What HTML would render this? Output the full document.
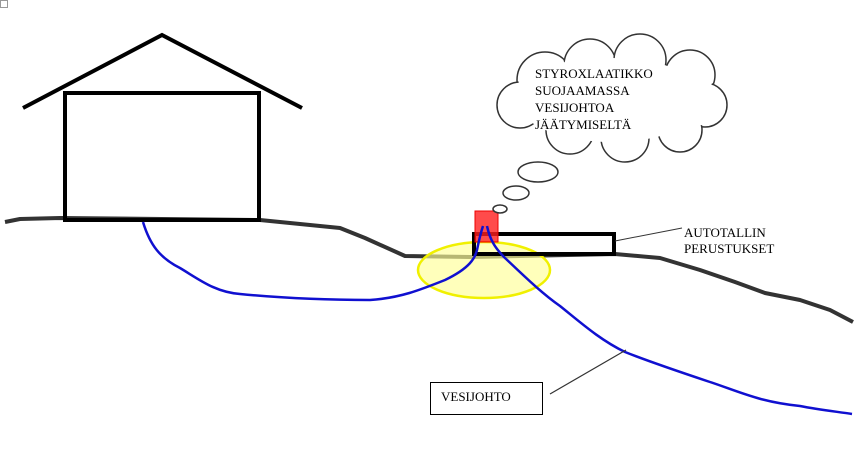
<!DOCTYPE html>
<html><head><style>html,body{margin:0;padding:0;background:#fff;}svg{display:block;}</style></head>
<body>
<svg width="858" height="452" viewBox="0 0 858 452" xmlns="http://www.w3.org/2000/svg" font-family="Liberation Serif, serif" font-size="13">
<rect x="0.5" y="0.5" width="7" height="7" fill="none" stroke="#999" stroke-width="1"/>
<!-- ground -->
<path d="M5,222 L20,219 L60,218 L260,220 L340,228 L365,238 L405,256 L470,257 L615,254 L660,258 L700,270 L735,282 L765,293 L800,300 L830,310 L853,322" fill="none" stroke="#333" stroke-width="4" stroke-linejoin="round"/>
<!-- house -->
<rect x="65" y="93" width="194" height="127" fill="none" stroke="#000" stroke-width="4"/>
<path d="M23,108 L162,35 L302,108" fill="none" stroke="#000" stroke-width="4"/>
<!-- yellow ellipse -->
<ellipse cx="484" cy="270" rx="66" ry="28" fill="rgba(255,255,150,0.65)" stroke="#f0f000" stroke-width="2.5"/>
<!-- garage foundation -->
<rect x="474" y="234" width="140" height="20" fill="none" stroke="#000" stroke-width="4"/>
<!-- red box -->
<rect x="475" y="211" width="23" height="31" fill="rgba(255,30,30,0.8)" stroke="#e00" stroke-width="1"/>
<!-- pipes -->
<path d="M143,222 C150,245 160,258 180,268 C200,280 215,292 240,294 C280,298 330,300 370,300 C400,298 420,290 445,280 C470,268 475,258 477,250 C479,240 481,232 483,226" fill="none" stroke="#1010d0" stroke-width="2.5"/>
<path d="M487,226 C490,240 495,248 505,258 C520,272 540,292 560,306 C580,322 600,340 625,352 C650,362 680,372 710,382 C740,392 760,402 800,406 C820,410 840,412 852,414" fill="none" stroke="#1010d0" stroke-width="2.5"/>
<!-- thought bubbles -->
<ellipse cx="500" cy="209" rx="7" ry="4" fill="#fff" stroke="#333" stroke-width="1.5"/>
<ellipse cx="516" cy="193" rx="13" ry="7" fill="#fff" stroke="#333" stroke-width="1.5"/>
<ellipse cx="538" cy="172" rx="20" ry="10" fill="#fff" stroke="#333" stroke-width="1.5"/>
<!-- cloud -->
<g fill="#fff" stroke="#333" stroke-width="1.5">
<circle cx="545" cy="80" r="28"/>
<circle cx="590" cy="65" r="26"/>
<circle cx="640" cy="60" r="26"/>
<circle cx="690" cy="75" r="25"/>
<circle cx="705" cy="105" r="22"/>
<circle cx="680" cy="130" r="22"/>
<circle cx="625" cy="138" r="24"/>
<circle cx="570" cy="130" r="24"/>
<circle cx="520" cy="105" r="23"/>
</g>
<g fill="#fff">
<ellipse cx="612" cy="100" rx="95" ry="42"/>
<circle cx="545" cy="80" r="26.5"/>
<circle cx="590" cy="65" r="24.5"/>
<circle cx="640" cy="60" r="24.5"/>
<circle cx="690" cy="75" r="23.5"/>
<circle cx="705" cy="105" r="20.5"/>
<circle cx="680" cy="130" r="20.5"/>
<circle cx="625" cy="138" r="22.5"/>
<circle cx="570" cy="130" r="22.5"/>
<circle cx="520" cy="105" r="21.5"/>
</g>
<g fill="#000">
<text x="535" y="78">STYROXLAATIKKO</text>
<text x="535" y="95">SUOJAAMASSA</text>
<text x="535" y="112">VESIJOHTOA</text>
<text x="535" y="129">JÄÄTYMISELTÄ</text>
<text x="684" y="237">AUTOTALLIN</text>
<text x="684" y="253">PERUSTUKSET</text>
</g>
<line x1="615" y1="241" x2="682" y2="228" stroke="#333" stroke-width="1"/>
<rect x="430.5" y="382.5" width="112" height="32" fill="#fff" stroke="#000" stroke-width="1"/>
<text x="441" y="401">VESIJOHTO</text>
<line x1="550" y1="394" x2="626" y2="350" stroke="#333" stroke-width="1.2"/>
</svg>
</body></html>
